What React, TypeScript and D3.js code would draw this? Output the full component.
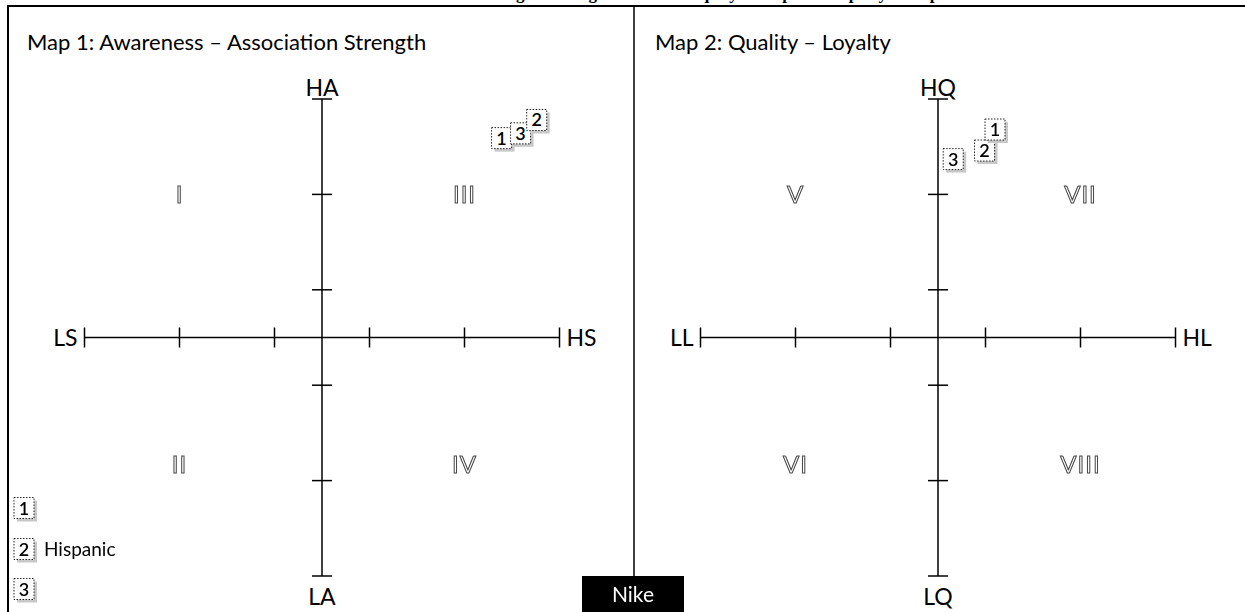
import React from "react";
import * as d3 from "d3";

const segmentIds = ["1", "2", "3"];
const segmentNames = ["", "Hispanic", ""];
const map1Strength = [1.89, 2.26, 2.09];
const map1Awareness = [2.09, 2.28, 2.14];
const map2Loyalty = [0.6, 0.49, 0.16];
const map2Quality = [2.18, 1.96, 1.87];
const tickValues = [-2.5, -1.5, -0.5, 0.5, 1.5, 2.5];
const map1Quadrants = [
  { label: "I", qx: -1.5, qy: 1.5 },
  { label: "III", qx: 1.5, qy: 1.5 },
  { label: "II", qx: -1.5, qy: -1.33 },
  { label: "IV", qx: 1.5, qy: -1.33 },
];
const map2Quadrants = [
  { label: "V", qx: -1.5, qy: 1.5 },
  { label: "VII", qx: 1.5, qy: 1.5 },
  { label: "VI", qx: -1.5, qy: -1.33 },
  { label: "VIII", qx: 1.5, qy: -1.33 },
];
const brand = "Nike";

const FONT = "Lato, 'Open Sans', sans-serif";

function Marker({ x, y, id }: { x: number; y: number; id: string }) {
  const w = 20, h = 21;
  return (
    <g>
      <rect x={x - w / 2 + 3} y={y - h / 2 + 3} width={w} height={h} fill="#c8c8c8" />
      <rect x={x - w / 2} y={y - h / 2} width={w} height={h} fill="#fff" stroke="#222" strokeWidth={1} strokeDasharray="1.5,1.5" />
      <text x={x} y={y + 6.5} textAnchor="middle" fontFamily={FONT} fontSize={18} fontWeight={600} fill="#000">{id}</text>
    </g>
  );
}

function MapPanel({ cx, cy, title, titleX, labels, xs, ys, quads }: any) {
  const x = d3.scaleLinear().domain([-2.5, 2.5]).range([cx - 237.5, cx + 237.5]);
  const y = d3.scaleLinear().domain([-2.5, 2.5]).range([cy + 240, cy - 237]);
  const tick = 10;
  const order = d3.range(xs.length).sort((a, b) => ys[a] - ys[b]);
  return (
    <g>
      <text x={titleX} y={50} fontFamily={FONT} fontSize={22} fill="#000">{title}</text>
      <line x1={x(-2.5)} x2={x(2.5)} y1={y(0)} y2={y(0)} stroke="#000" strokeWidth={1.5} />
      <line x1={x(0)} x2={x(0)} y1={y(2.5)} y2={y(-2.5)} stroke="#000" strokeWidth={1.5} />
      {tickValues.map((t) => (
        <line key={"h" + t} x1={x(t)} x2={x(t)} y1={y(0) - tick} y2={y(0) + tick} stroke="#000" strokeWidth={1.5} />
      ))}
      {tickValues.map((t) => (
        <line key={"v" + t} x1={x(0) - tick} x2={x(0) + tick} y1={y(t)} y2={y(t)} stroke="#000" strokeWidth={1.5} />
      ))}
      <text x={x(-2.5) - 7} y={y(0) + 8} textAnchor="end" fontFamily={FONT} fontSize={23}>{labels[0]}</text>
      <text x={x(2.5) + 7} y={y(0) + 8} textAnchor="start" fontFamily={FONT} fontSize={23}>{labels[1]}</text>
      <text x={x(0)} y={y(2.5) - 3} textAnchor="middle" fontFamily={FONT} fontSize={23}>{labels[2]}</text>
      <text x={x(0)} y={y(-2.5) + 29} textAnchor="middle" fontFamily={FONT} fontSize={23}>{labels[3]}</text>
      <g style={{ opacity: 0.99, willChange: "transform" }}>
        {quads.map((q: any) => (
          <text key={q.label} x={x(q.qx)} y={y(q.qy) + 9} textAnchor="middle" fontFamily={FONT} fontSize={24}
            fill="#fff" stroke="#444" strokeWidth={1} letterSpacing={1}>{q.label}</text>
        ))}
      </g>
      {order.map((i: number) => (
        <Marker key={i} x={x(xs[i])} y={y(ys[i])} id={segmentIds[i]} />
      ))}
    </g>
  );
}

export default function App() {
  const legendY = [508, 549, 589];
  return (
    <svg width={1245} height={612} style={{ position: "absolute", left: 0, top: 0, background: "#fff" }}>
      <rect width={1245} height={612} fill="#fff" />
      <text x={720} y={-1} textAnchor="middle" fontFamily="'Liberation Serif', serif" fontWeight="bold" fontSize={17}>
        Figure 3: Segment Brand Equity Perceptual Maps by Group
      </text>
      <line x1={8} x2={1245} y1={6} y2={6} stroke="#000" strokeWidth={2} />
      <line x1={8} x2={8} y1={5} y2={612} stroke="#000" strokeWidth={2} />
      <line x1={634} x2={634} y1={6} y2={576} stroke="#000" strokeWidth={1.5} />
      <MapPanel cx={322} cy={336} title="Map 1: Awareness – Association Strength" titleX={27}
        labels={["LS", "HS", "HA", "LA"]} xs={map1Strength} ys={map1Awareness} quads={map1Quadrants} />
      <MapPanel cx={938} cy={336} title="Map 2: Quality – Loyalty" titleX={655}
        labels={["LL", "HL", "HQ", "LQ"]} xs={map2Loyalty} ys={map2Quality} quads={map2Quadrants} />
      {segmentIds.map((id, i) => (
        <g key={id}>
          <Marker x={24} y={legendY[i]} id={id} />
          {segmentNames[i] && (
            <text x={44} y={legendY[i] + 7} fontFamily={FONT} fontSize={19}>{segmentNames[i]}</text>
          )}
        </g>
      ))}
      <rect x={582} y={576} width={102} height={40} fill="#000" />
      <text x={633} y={602} textAnchor="middle" fontFamily={FONT} fontSize={21} fill="#fff">{brand}</text>
    </svg>
  );
}
